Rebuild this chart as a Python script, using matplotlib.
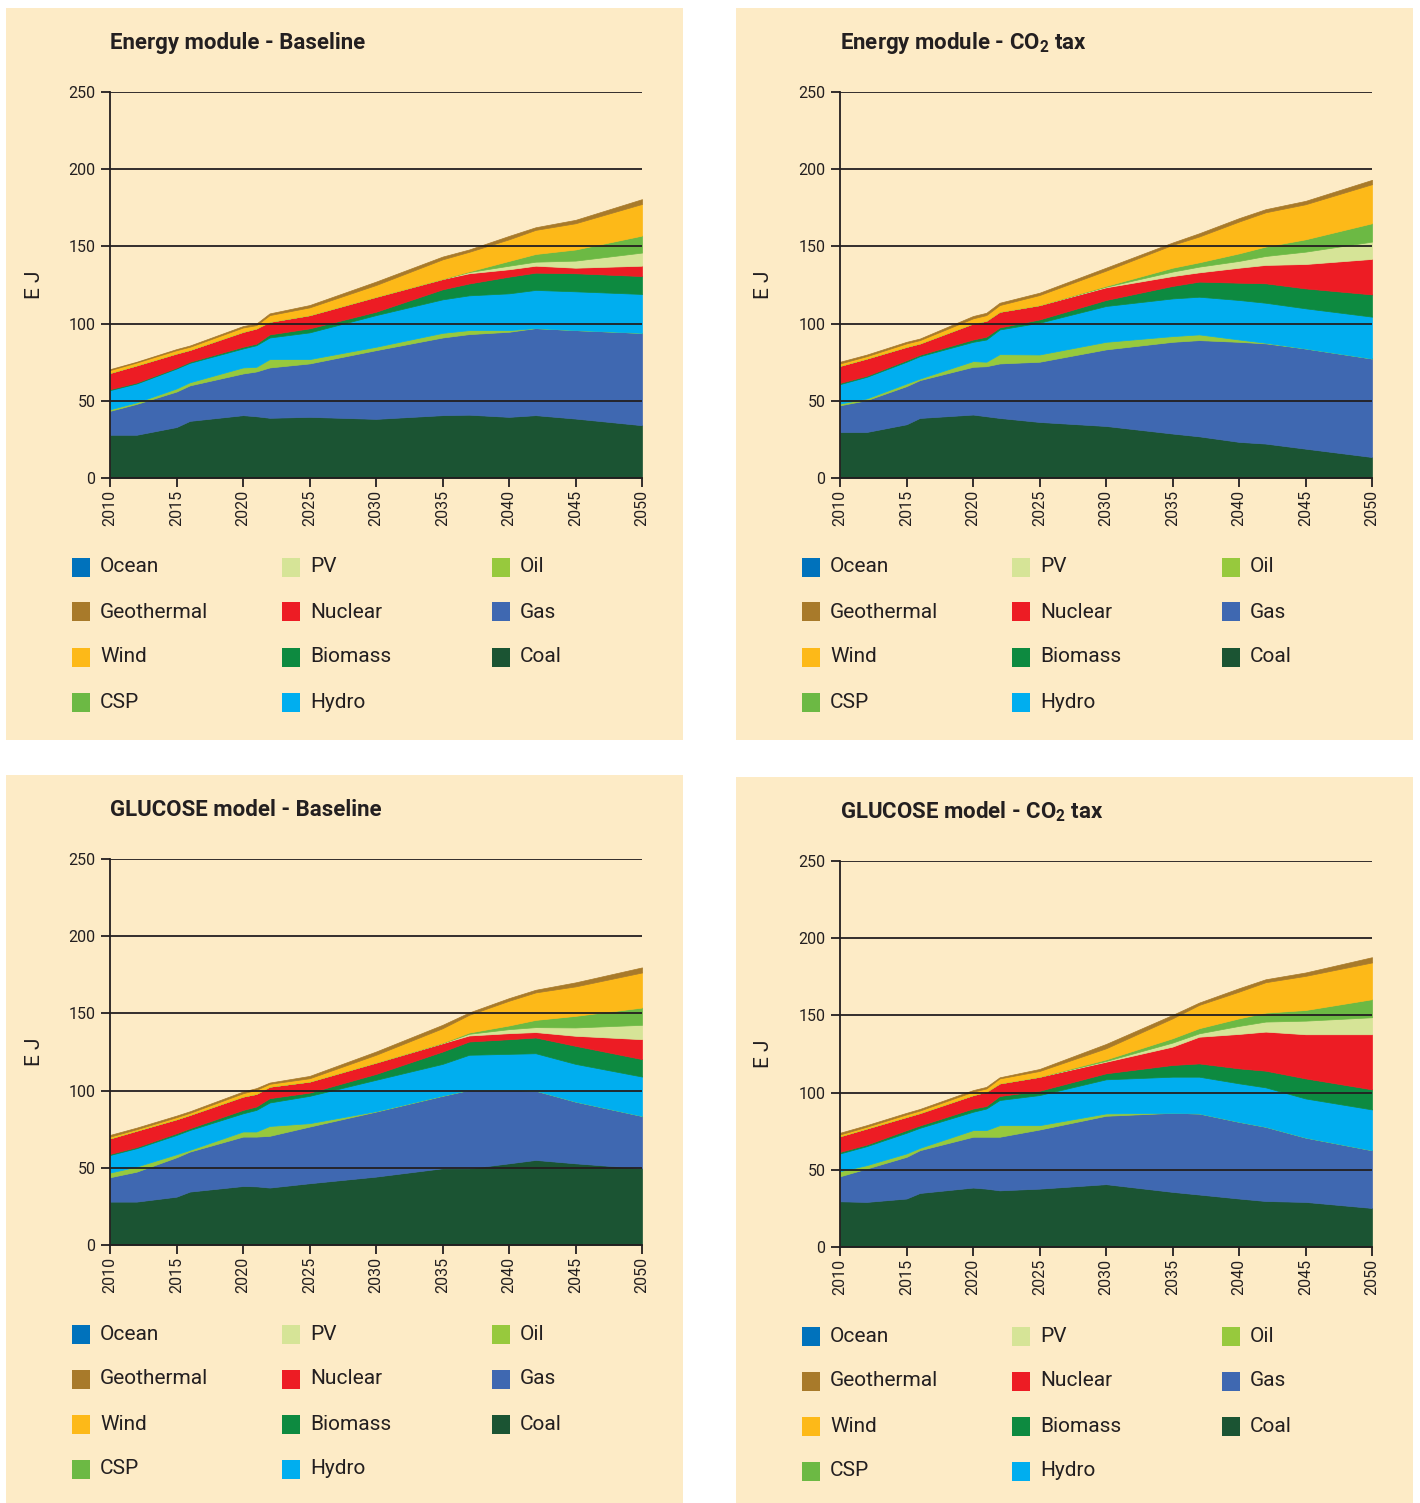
import matplotlib
matplotlib.use('Agg')
import matplotlib.pyplot as plt
from matplotlib.patches import Rectangle

W, H = 1420, 1503
FONT = ['Roboto', 'DejaVu Sans']
plt.rcParams['font.family'] = FONT
plt.rcParams['mathtext.fontset'] = 'custom'
plt.rcParams['mathtext.bf'] = 'Roboto:bold'
plt.rcParams['mathtext.rm'] = 'Roboto'

years = [2010, 2012, 2015, 2016, 2020, 2021, 2022, 2025, 2030, 2035, 2037, 2040, 2042, 2045, 2050]
sources = ['Coal', 'Gas', 'Oil', 'Hydro', 'Biomass', 'Nuclear', 'PV', 'CSP', 'Wind', 'Geothermal', 'Ocean']
colors = ['#1B5433', '#3F68B1', '#97C93D', '#00AEEF', '#0D8A40', '#ED1C24',
          '#D6E497', '#6CB944', '#FDB918', '#A87A2A', '#0072BC']
legend_cols = [['Ocean', 'Geothermal', 'Wind', 'CSP'],
               ['PV', 'Nuclear', 'Biomass', 'Hydro'],
               ['Oil', 'Gas', 'Coal']]
yticks = [0, 50, 100, 150, 200, 250]
xticks = [2010, 2015, 2020, 2025, 2030, 2035, 2040, 2045, 2050]
titles = ['Energy module - Baseline', r'Energy module - CO$_\mathbf{2}$ tax',
          'GLUCOSE model - Baseline', r'GLUCOSE model - CO$_\mathbf{2}$ tax']

# Energy module - Baseline (EJ)
eb_coal = [28, 28, 33, 37, 40.7, 40, 39, 39.6, 38.3, 40.7, 41, 39.6, 40.7, 38.5, 34.2]
eb_gas = [15.5, 20, 23, 23, 27, 29, 32.6, 34.6, 44.5, 50.3, 52.2, 55.1, 56.4, 57.3, 59.8]
eb_oil = [1, 1, 2, 2, 3.9, 3, 5.4, 2.8, 2.2, 3, 2.6, 1.1, 0, 0, 0]
eb_hydro = [12.4, 12.2, 12.9, 12.6, 12.3, 14, 14, 17.3, 20.5, 21.7, 22.5, 23.8, 24.7, 25.1, 25.2]
eb_biomass = [0.6, 0.6, 0.6, 0.7, 1.1, 1, 2, 2.6, 2.2, 6.5, 7.7, 10.8, 11.2, 11.7, 11.6]
eb_nuclear = [10.6, 11.2, 9.2, 7.7, 9.7, 9.9, 8.2, 8.6, 9.7, 6.7, 6.6, 4.8, 4.5, 3.6, 6.7]
eb_pv = [0, 0, 0, 0, 0, 0, 0, 0, 0, 0, 0.8, 2.3, 2.6, 4.6, 8.5]
eb_csp = [0, 0, 0, 0, 0, 0, 0, 0, 0, 0.1, 0.4, 3.1, 5, 7.2, 11]
eb_wind = [1.8, 1.8, 2.1, 2, 2.8, 2.1, 4.3, 5, 7.6, 12.6, 12.7, 14, 15.6, 17, 20.5]
eb_geo = [0.6, 0.5, 0.7, 0.8, 0.9, 1, 1.1, 1.5, 2.2, 1.8, 1.5, 2.2, 1.7, 2.2, 3.1]
eb_ocean = [0, 0, 0, 0, 0, 0, 0, 0, 0, 0, 0, 0, 0, 0, 0]

# Energy module - CO2 tax
ec_coal = [29.8, 29.8, 34.8, 38.9, 41.1, 40, 38.9, 36.3, 33.7, 28.8, 27, 23.4, 22.3, 19, 13.6]
ec_gas = [17.3, 20.6, 24.7, 24.5, 30.9, 32.4, 35.3, 39, 49.6, 59.4, 62.3, 64.8, 64.9, 64.9, 63.8]
ec_oil = [1.1, 1.1, 1.7, 1, 3.7, 2.9, 6, 4.7, 4.9, 3.7, 3.7, 1.5, 0.4, 0, 0]
ec_hydro = [12.6, 14, 14.1, 14.5, 12.5, 14.4, 16, 20.6, 23.2, 24.4, 24.4, 25.6, 25.9, 26, 27.1]
ec_biomass = [0.8, 0.7, 1, 0.9, 1.5, 1.8, 1.3, 2.1, 3.9, 8.1, 9.8, 11.2, 12.6, 12.9, 14.4]
ec_nuclear = [11.1, 11.2, 8.7, 7.4, 10.4, 10.4, 10.2, 9.3, 8.2, 6.4, 6, 9.7, 11.9, 15.8, 23]
ec_pv = [0, 0, 0, 0, 0, 0, 0, 0, 0.4, 2.9, 3.7, 4.4, 5.8, 8, 11.2]
ec_csp = [0, 0, 0, 0, 0, 0, 0, 0, 0.5, 2.5, 2.8, 4.9, 6.1, 8, 11.9]
ec_wind = [1.5, 1.5, 2.2, 2.1, 3.3, 3.6, 4.3, 6.5, 9.9, 14.8, 16.7, 20.6, 22.2, 22.7, 25.3]
ec_geo = [1.1, 1, 1, 1, 1.5, 1.5, 1.5, 1.5, 1.9, 1.5, 2.1, 2.2, 2, 2.2, 2.8]
ec_ocean = [0, 0, 0, 0, 0, 0, 0, 0, 0, 0, 0, 0, 0, 0, 0]

# GLUCOSE model - Baseline
gb_coal = [28.1, 28.1, 31.3, 34.6, 38.2, 38, 37.2, 40, 44.3, 49.7, 49.7, 52.9, 55.1, 52.9, 49.7]
gb_gas = [15.8, 19.4, 25.5, 25.9, 32, 32.2, 33.5, 36.7, 42.1, 46.9, 50.8, 47.6, 44.9, 40, 33.9]
gb_oil = [3, 3.3, 2, 1.1, 3.3, 3.3, 6.4, 2.2, 0.3, 0.2, 0, 0, 0, 0, 0]
gb_hydro = [11.4, 11.9, 12.5, 12.9, 11.8, 14, 15.2, 17.7, 20.3, 20.5, 22.7, 23.3, 24.2, 24.4, 25.5]
gb_biomass = [0.7, 0.7, 1.1, 1.1, 2.2, 2.2, 2.8, 2.1, 3.8, 8, 8.6, 9.5, 10.2, 11.7, 11.3]
gb_nuclear = [10.1, 10.7, 9.1, 8.7, 8.7, 8.2, 7.5, 7.2, 7.4, 5.4, 3.9, 3.9, 3.5, 6.5, 12.9]
gb_pv = [0, 0, 0, 0, 0, 0, 0, 0, 0, 0.1, 1.1, 2.6, 3.2, 5.4, 9.3]
gb_csp = [0, 0, 0, 0, 0, 0, 0, 0, 0, 0.2, 0.8, 2.4, 4.7, 7.5, 11.2]
gb_wind = [1.1, 0.9, 1.3, 1.3, 2.1, 2.6, 1.8, 2.1, 5, 9.4, 11.5, 16, 17.8, 19.1, 22.7]
gb_geo = [1.1, 1, 1, 1, 1.1, 1.1, 0.8, 1.5, 2.1, 2.2, 1.5, 1.7, 1.7, 2.6, 3.3]
gb_ocean = [0, 0, 0, 0, 0, 0, 0, 0, 0, 0, 0, 0, 0, 0, 0]

# GLUCOSE model - CO2 tax
gc_coal = [29.6, 29.2, 31.4, 35, 38.5, 37.8, 36.7, 37.8, 40.7, 35.7, 34, 31.4, 29.8, 29.2, 25.3]
gc_gas = [16.2, 21.6, 27, 27.7, 32.9, 33.6, 34.7, 38.3, 44.3, 51.2, 52.5, 49.7, 48.1, 41.7, 37.4]
gc_oil = [3.3, 2.2, 2.2, 1.5, 4.3, 4.3, 7.5, 2.8, 1.5, 0, 0, 0, 0, 0, 0]
gc_hydro = [11.5, 12.3, 13.4, 13, 11.9, 14, 16.3, 19.5, 22.1, 23.4, 23.8, 24.9, 25.5, 25.3, 26.4]
gc_biomass = [1, 1, 1.7, 1.5, 2.1, 1.6, 2.6, 2.8, 3.9, 7.6, 8.6, 9.7, 10.8, 13, 13]
gc_nuclear = [10.2, 10.5, 8.6, 8.1, 8.7, 9.3, 8.2, 9.1, 7.5, 11.9, 17.3, 22.3, 25.3, 28.6, 35.7]
gc_pv = [0, 0, 0, 0, 0, 0, 0, 0, 0.5, 2.6, 2.2, 5.2, 6.5, 8.8, 11]
gc_csp = [0, 0, 0, 0, 0, 0, 0, 0, 1, 2.8, 3.3, 4.9, 5.8, 6.9, 11.7]
gc_wind = [1.1, 1.1, 1.6, 1.6, 2.2, 2.1, 3.2, 3.7, 7.2, 12.9, 15.1, 17.3, 19.7, 22.1, 23.8]
gc_geo = [1.1, 1, 1, 1, 1, 1, 0.7, 1.3, 2.8, 2.2, 1.5, 2.2, 1.9, 2.2, 3.4]
gc_ocean = [0, 0, 0, 0, 0, 0, 0, 0, 0, 0, 0, 0, 0, 0, 0]

panels_data = [
    [eb_coal, eb_gas, eb_oil, eb_hydro, eb_biomass, eb_nuclear, eb_pv, eb_csp, eb_wind, eb_geo, eb_ocean],
    [ec_coal, ec_gas, ec_oil, ec_hydro, ec_biomass, ec_nuclear, ec_pv, ec_csp, ec_wind, ec_geo, ec_ocean],
    [gb_coal, gb_gas, gb_oil, gb_hydro, gb_biomass, gb_nuclear, gb_pv, gb_csp, gb_wind, gb_geo, gb_ocean],
    [gc_coal, gc_gas, gc_oil, gc_hydro, gc_biomass, gc_nuclear, gc_pv, gc_csp, gc_wind, gc_geo, gc_ocean],
]

BG = '#FDEBC6'
INK = '#231F20'

fig = plt.figure(figsize=(W / 100, H / 100), dpi=100)
fig.patch.set_facecolor('white')


def fx(x):
    return x / W


def fy(y):
    return 1 - y / H


layouts = [
    dict(box=(6, 8, 683, 740), ax=(110, 92, 642, 478), title=(110, 43), ej=(44, 285), leg_y=567, leg_x=72),
    dict(box=(736, 8, 1413, 740), ax=(840, 92, 1372, 478), title=(840, 43), ej=(773, 285), leg_y=567, leg_x=802),
    dict(box=(6, 775, 683, 1503), ax=(110, 859, 642, 1245), title=(110, 810), ej=(44, 1052), leg_y=1334, leg_x=72),
    dict(box=(736, 777, 1413, 1503), ax=(840, 861, 1372, 1247), title=(840, 812), ej=(773, 1054), leg_y=1336, leg_x=802),
]

color_of = dict(zip(sources, colors))

for i, lay in enumerate(layouts):
    x0, y0, x1, y1 = lay['box']
    fig.add_artist(Rectangle((fx(x0), fy(y1)), fx(x1) - fx(x0), fy(y0) - fy(y1),
                             transform=fig.transFigure, facecolor=BG, edgecolor='none', zorder=0))
    l, t, r, b = lay['ax']
    ax = fig.add_axes([fx(l), fy(b), fx(r) - fx(l), fy(t) - fy(b)])
    ax.set_facecolor('none')
    polys = ax.stackplot(years, *panels_data[i], colors=colors, linewidth=0.5, edgecolor='face', zorder=1)
    polys[-1].set_linewidth(0)
    ax.set_xlim(2010, 2050)
    ax.set_ylim(0, 250)
    ax.set_yticks(yticks)
    ax.set_xticks(xticks)
    ax.set_xticklabels([str(v) for v in xticks], rotation=90, fontsize=11.5, color=INK)
    ax.set_yticklabels([str(v) for v in yticks], fontsize=11.5, color=INK)
    ax.yaxis.grid(True, color=INK, linewidth=1.3, zorder=3)
    ax.set_axisbelow(False)
    for s in ['top', 'right']:
        ax.spines[s].set_visible(False)
    for s in ['left', 'bottom']:
        ax.spines[s].set_color(INK)
        ax.spines[s].set_linewidth(1.3)
        ax.spines[s].set_zorder(4)
    ax.tick_params(axis='y', length=6.5, width=1.3, color=INK, pad=4)
    ax.tick_params(axis='x', length=6.5, width=1.3, color=INK, pad=2)
    ax.set_ylabel('E J', fontsize=15, color=INK)
    ax.yaxis.set_label_coords((lay['ej'][0] - l) / (r - l), (b - lay['ej'][1]) / (b - t))

    tx, ty = lay['title']
    fig.text(fx(tx), fy(ty), titles[i], fontsize=16, fontweight='bold', color=INK,
             ha='left', va='center')

    col_dx = [0, 210, 420]
    for c, names in enumerate(legend_cols):
        for rr, name in enumerate(names):
            sx = lay['leg_x'] + col_dx[c]
            sy = lay['leg_y'] + 45 * rr
            fig.add_artist(Rectangle((fx(sx), fy(sy + 9.5)), fx(18), 19 / H,
                                     transform=fig.transFigure, facecolor=color_of[name],
                                     edgecolor='none'))
            fig.text(fx(sx + 28), fy(sy), name, fontsize=15, color=INK, ha='left', va='center')

fig.savefig('out.png', dpi=100, facecolor='white')
